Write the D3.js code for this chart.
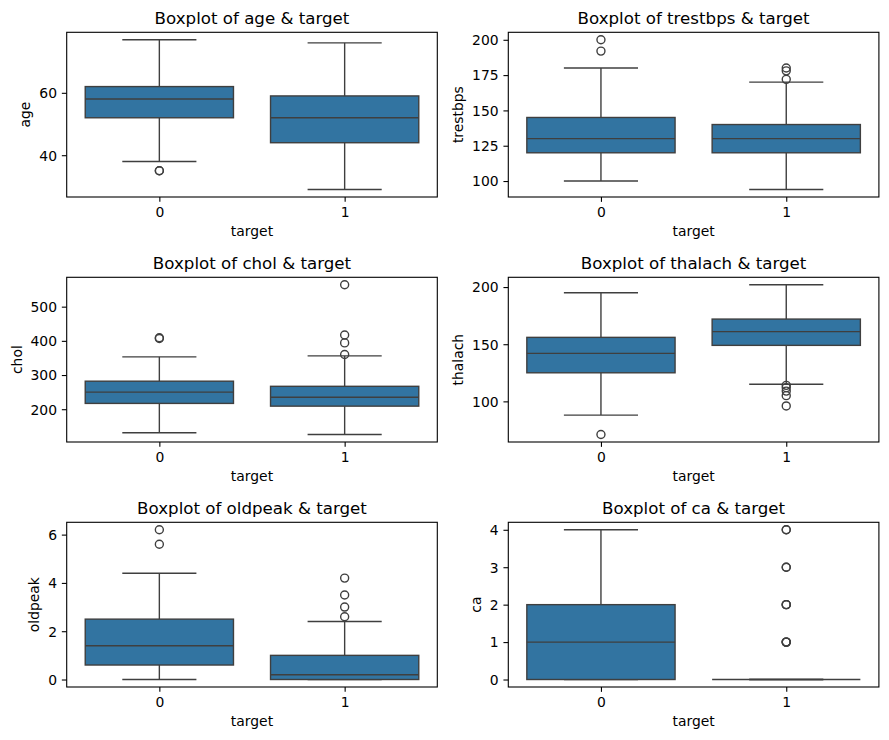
<!DOCTYPE html>
<meta charset="utf-8">
<style>
body { margin: 0; background: #fff; }
text { font-family: "DejaVu Sans", sans-serif; fill: #000; }
.title { font-size: 16.67px; }
.tick text, .label { font-size: 13.9px; }
</style>
<svg width="889" height="740"></svg>
<script src="https://cdn.jsdelivr.net/npm/d3@7"></script>
<script>

var categories = ["0", "1"];
var features = ["age", "trestbps", "chol", "thalach", "oldpeak", "ca"];

// per target: [low whisker, q1, median, q3, high whisker]
var ageBoxes = [[38, 52, 58, 62, 77], [29, 44, 52, 59, 76]];
var ageFliers = [[35, 35], []];
var ageTicks = [40, 60];

var trestbpsBoxes = [[100, 120, 130, 145, 180], [94, 120, 130, 140, 170]];
var trestbpsFliers = [[192, 200], [172, 178, 180]];
var trestbpsTicks = [100, 125, 150, 175, 200];

var cholBoxes = [[131, 217, 250, 282, 353], [126, 209, 235, 267, 356]];
var cholFliers = [[407, 409], [360, 394, 417, 564]];
var cholTicks = [200, 300, 400, 500];

var thalachBoxes = [[88, 125, 142, 156, 195], [115, 149, 161, 172, 202]];
var thalachFliers = [[71], [96, 105, 109, 112, 114]];
var thalachTicks = [100, 150, 200];

var oldpeakBoxes = [[0, 0.6, 1.4, 2.5, 4.4], [0, 0, 0.2, 1.0, 2.4]];
var oldpeakFliers = [[5.6, 6.2], [2.6, 3.0, 3.5, 4.2]];
var oldpeakTicks = [0, 2, 4, 6];

var caBoxes = [[0, 0, 1, 2, 4], [0, 0, 0, 0, 0]];
var caFliers = [[], [1, 1, 1, 1, 2, 2, 2, 3, 3, 4, 4]];
var caTicks = [0, 1, 2, 3, 4];

var panels = [
  {boxes: ageBoxes, fliers: ageFliers, ticks: ageTicks},
  {boxes: trestbpsBoxes, fliers: trestbpsFliers, ticks: trestbpsTicks},
  {boxes: cholBoxes, fliers: cholFliers, ticks: cholTicks},
  {boxes: thalachBoxes, fliers: thalachFliers, ticks: thalachTicks},
  {boxes: oldpeakBoxes, fliers: oldpeakFliers, ticks: oldpeakTicks},
  {boxes: caBoxes, fliers: caFliers, ticks: caTicks}
];

var boxFill = "#3274a1",
    lineColor = "#3f3f3f",
    lw = 1.4,
    tickLen = 4.86;

var svg = d3.select("svg");

var colLeft = [66.7, 508.3],
    axW = 370.6,
    rowTop = [32.3, 277.3, 522.3],
    axH = 164.7;

panels.forEach(function(p, i) {
  var name = features[i],
      left = colLeft[i % 2],
      top = rowTop[Math.floor(i / 2)];

  var g = svg.append("g").attr("transform", "translate(" + left + "," + top + ")");

  var all = d3.merge(p.boxes).concat(d3.merge(p.fliers));
  var lo = d3.min(all), hi = d3.max(all), pad = (hi - lo) * 0.05;

  var x = d3.scaleLinear().domain([-0.5, 1.5]).range([0, axW]);
  var y = d3.scaleLinear().domain([lo - pad, hi + pad]).range([axH, 0]);

  var bw = x(0.8) - x(0), cw = x(0.4) - x(0);

  var box = g.selectAll(".box")
    .data(p.boxes)
    .enter().append("g")
      .attr("class", "box");

  // whiskers
  box.append("line")
      .attr("x1", function(d, j) { return x(j); })
      .attr("x2", function(d, j) { return x(j); })
      .attr("y1", function(d) { return y(d[3]); })
      .attr("y2", function(d) { return y(d[4]); });
  box.append("line")
      .attr("x1", function(d, j) { return x(j); })
      .attr("x2", function(d, j) { return x(j); })
      .attr("y1", function(d) { return y(d[1]); })
      .attr("y2", function(d) { return y(d[0]); });
  // caps
  [0, 4].forEach(function(k) {
    box.append("line")
        .attr("x1", function(d, j) { return x(j) - cw / 2; })
        .attr("x2", function(d, j) { return x(j) + cw / 2; })
        .attr("y1", function(d) { return y(d[k]); })
        .attr("y2", function(d) { return y(d[k]); });
  });

  box.append("rect")
      .attr("x", function(d, j) { return x(j) - bw / 2; })
      .attr("width", bw)
      .attr("y", function(d) { return y(d[3]); })
      .attr("height", function(d) { return y(d[1]) - y(d[3]); })
      .attr("fill", boxFill);

  box.append("line")
      .attr("x1", function(d, j) { return x(j) - bw / 2; })
      .attr("x2", function(d, j) { return x(j) + bw / 2; })
      .attr("y1", function(d) { return y(d[2]); })
      .attr("y2", function(d) { return y(d[2]); });

  box.selectAll("line, rect")
      .attr("stroke", lineColor)
      .attr("stroke-width", lw);

  p.fliers.forEach(function(arr, j) {
    g.selectAll(".flier" + j)
      .data(arr)
      .enter().append("circle")
        .attr("cx", x(j))
        .attr("cy", function(d) { return y(d); })
        .attr("r", 4)
        .attr("fill", "none")
        .attr("stroke", lineColor)
        .attr("stroke-width", lw);
  });

  // frame
  g.append("rect")
      .attr("width", axW)
      .attr("height", axH)
      .attr("fill", "none")
      .attr("stroke", "#000")
      .attr("stroke-width", 1.1);

  var ya = g.append("g")
      .call(d3.axisLeft(y).tickValues(p.ticks).tickSize(tickLen).tickPadding(tickLen).tickFormat(d3.format("d")));
  ya.select(".domain").remove();
  ya.selectAll(".tick line").attr("stroke-width", 1.1);
  ya.selectAll(".tick text").attr("dy", "0.35em");

  var xa = g.append("g")
      .attr("transform", "translate(0," + axH + ")")
      .call(d3.axisBottom(x).tickValues([0, 1]).tickSize(tickLen).tickPadding(tickLen)
        .tickFormat(function(d) { return categories[d]; }));
  xa.select(".domain").remove();
  xa.selectAll(".tick line").attr("stroke-width", 1.1);
  xa.selectAll(".tick text").attr("dy", "0.76em");

  var tw = d3.max(ya.selectAll(".tick text").nodes(), function(n) { return n.getComputedTextLength(); });

  g.append("text")
      .attr("class", "label")
      .attr("transform", "translate(" + (-tickLen * 2 - tw - 5.6 - 3.3) + "," + (axH / 2) + ") rotate(-90)")
      .attr("text-anchor", "middle")
      .text(name);

  g.append("text")
      .attr("class", "label")
      .attr("x", axW / 2)
      .attr("y", axH + 39)
      .attr("text-anchor", "middle")
      .text("target");

  g.append("text")
      .attr("class", "title")
      .attr("x", axW / 2)
      .attr("y", -8.3)
      .attr("text-anchor", "middle")
      .text("Boxplot of " + name + " & target");
});

</script>
